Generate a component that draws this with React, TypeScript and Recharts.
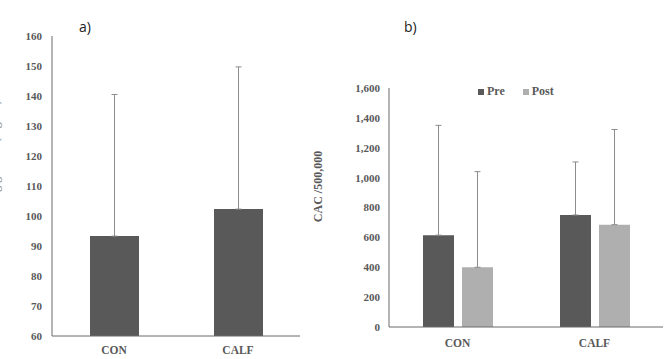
import React from 'react';
import { BarChart, Bar, XAxis, YAxis, ErrorBar, Legend, Label } from 'recharts';

const groups = ['CON', 'CALF'];

// panel a
const leftMeans = [93.3, 102.3];
const leftErrors = [47.2, 47.4];
const leftTicks = [60, 70, 80, 90, 100, 110, 120, 130, 140, 150, 160];

// panel b
const preMeans = [615, 750];
const preErrors = [735, 355];
const postMeans = [400, 685];
const postErrors = [640, 637];
const rightTicks = [0, 200, 400, 600, 800, 1000, 1200, 1400, 1600];

const leftData = groups.map((g, i) => ({ name: g, value: leftMeans[i], err: [0, leftErrors[i]] }));
const rightData = groups.map((g, i) => ({
  name: g,
  pre: preMeans[i],
  preErr: [0, preErrors[i]],
  post: postMeans[i],
  postErr: [0, postErrors[i]],
}));

const serif = '"Liberation Serif", "Times New Roman", serif';
const textGray = '#595959';
const axisGray = '#6a6a6a';
const tickStyle = { fontFamily: serif, fontWeight: 700, fontSize: 11, fill: textGray };
const xTickStyle = { fontFamily: serif, fontWeight: 700, fontSize: 11.5, fill: textGray };

const LegendContent = (props: any) => {
  const { payload } = props;
  const items = [...payload].sort((a: any, b: any) => (a.dataKey === 'pre' ? -1 : 1) - (b.dataKey === 'pre' ? -1 : 1));
  return (
    <div style={{ display: 'flex', alignItems: 'center', fontFamily: serif, fontWeight: 700, fontSize: 12, color: textGray }}>
      {items.map((p: any, i: number) => (
        <div key={p.value} style={{ display: 'flex', alignItems: 'center', marginRight: i === 0 ? 18 : 0 }}>
          <span style={{ display: 'inline-block', width: 6, height: 6, background: p.color, marginRight: 3 }} />
          <span>{p.value}</span>
        </div>
      ))}
    </div>
  );
};

export default function App() {
  return (
    <div style={{ position: 'absolute', left: 0, top: 0, width: 665, height: 359, background: '#fff', overflow: 'hidden', fontFamily: serif }}>
      <div style={{ position: 'absolute', left: 79, top: 17, fontFamily: '"Open Sans", sans-serif', fontSize: 14, color: '#222' }}>a)</div>
      <div style={{ position: 'absolute', left: 404, top: 17, fontFamily: '"Open Sans", sans-serif', fontSize: 14, color: '#222' }}>b)</div>

      <div style={{ position: 'absolute', left: 0, top: 0 }}>
        <BarChart width={310} height={359} data={leftData} margin={{ top: 36, right: 10, left: 12, bottom: 0 }}>
          <XAxis
            dataKey="name"
            height={23}
            tickLine={false}
            tickSize={0}
            tickMargin={10}
            stroke={axisGray}
            tick={xTickStyle}
          />
          <YAxis
            domain={[60, 160]}
            ticks={leftTicks}
            width={40}
            tickLine={false}
            tickSize={0}
            tickMargin={10}
            stroke={axisGray}
            tick={tickStyle}
            interval={0}
          >
            <Label
              value="Fasting glucose (mg/dL)"
              angle={-90}
              position="center"
              dx={-37}
              dy={-24}
              style={{ fontFamily: serif, fontWeight: 700, fontSize: 12, fill: '#9a9a9a' }}
            />
          </YAxis>
          <Bar dataKey="value" fill="#595959" barSize={49} isAnimationActive={false}>
            <ErrorBar dataKey="err" width={3} stroke="#8c8c8c" strokeWidth={1} direction="y" />
          </Bar>
        </BarChart>
      </div>

      <div style={{ position: 'absolute', left: 310, top: 0 }}>
        <BarChart width={355} height={359} data={rightData} margin={{ top: 73, right: 2, left: 19, bottom: 0 }} barGap={8}>
          <XAxis
            dataKey="name"
            height={32}
            tickLine={false}
            tickSize={0}
            tickMargin={12}
            stroke={axisGray}
            tick={xTickStyle}
          />
          <YAxis
            domain={[0, 1600]}
            ticks={rightTicks}
            width={60}
            tickLine={false}
            tickSize={0}
            tickMargin={9}
            stroke={axisGray}
            tick={tickStyle}
            interval={0}
            tickFormatter={(v: number) => v.toLocaleString('en-US')}
          >
            <Label
              value="CAC /500,000"
              angle={-90}
              position="center"
              dx={-41}
              dy={-21}
              style={{ fontFamily: serif, fontWeight: 700, fontSize: 12, fill: textGray }}
            />
          </YAxis>
          <Legend
            verticalAlign="top"
            content={<LegendContent />}
            wrapperStyle={{ top: 84, left: 168, width: 'auto' }}
          />
          <Bar dataKey="pre" name="Pre" fill="#595959" barSize={31} isAnimationActive={false}>
            <ErrorBar dataKey="preErr" width={3} stroke="#8c8c8c" strokeWidth={1} direction="y" />
          </Bar>
          <Bar dataKey="post" name="Post" fill="#afafaf" barSize={31} isAnimationActive={false}>
            <ErrorBar dataKey="postErr" width={3} stroke="#8c8c8c" strokeWidth={1} direction="y" />
          </Bar>
        </BarChart>
      </div>
    </div>
  );
}
